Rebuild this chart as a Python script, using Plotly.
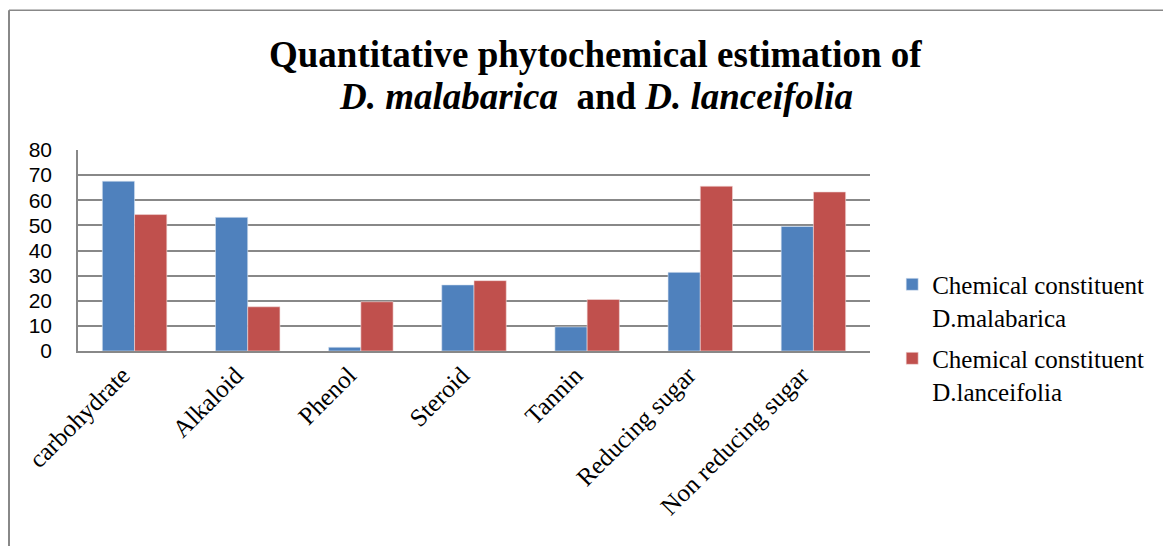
import plotly.graph_objects as go

categories = ["carbohydrate", "Alkaloid", "Phenol", "Steroid", "Tannin",
              "Reducing sugar", "Non reducing sugar"]
malabarica = [67.6, 53.2, 1.5, 26.3, 9.6, 31.3, 49.6]
lanceifolia = [54.3, 17.6, 19.6, 28.0, 20.5, 65.6, 63.3]
series_names = ["Chemical constituent<br>D.malabarica",
                "Chemical constituent<br>D.lanceifolia"]
y_ticks = [0, 10, 20, 30, 40, 50, 60, 70, 80]

fig = go.Figure()
fig.add_trace(go.Bar(x=categories, y=malabarica, name=series_names[0], legendgroup="a",
                     marker=dict(color="#4F81BD", line=dict(color="#DCE6F2", width=0.6))))
fig.add_trace(go.Bar(x=categories, y=lanceifolia, name=series_names[1], legendgroup="b",
                     marker=dict(color="#C0504D", line=dict(color="#F2DCDB", width=0.6))))

# page body has an 8px default margin; figure sized to compensate
fig.update_layout(
    width=1163, height=538,
    margin=dict(l=70, r=301, t=142, b=195),
    paper_bgcolor="white", plot_bgcolor="white",
    barmode="group", bargap=0.43, bargroupgap=0,
    showlegend=True,
    legend=dict(x=1.028, y=0.445, xanchor="left", yanchor="top",
                font=dict(family="Liberation Serif", size=25, color="black"),
                valign="top", tracegroupgap=6, itemwidth=30),
    font=dict(family="Liberation Serif", color="black"),
)
fig.update_xaxes(tickangle=-45, showline=True, linecolor="#888888", linewidth=1.5,
                 tickfont=dict(family="Liberation Serif", size=25, color="black"),
                 showgrid=False, ticks="", ticklabelshift=-12, ticklabelstandoff=-2)
fig.update_yaxes(range=[0, 80], tickvals=y_ticks, showline=True, linecolor="#888888",
                 linewidth=1.5, gridcolor="#888888", gridwidth=1.5, zeroline=False,
                 tickfont=dict(family="Liberation Sans", size=21, color="black"),
                 ticks="", ticklabelstandoff=20)

fig.add_annotation(xref="paper", yref="paper", x=0.654, y=1.0, yshift=96,
                   xanchor="center", yanchor="middle",
                   text="<b>Quantitative phytochemical estimation of</b>",
                   showarrow=False,
                   font=dict(family="Liberation Serif", size=37, color="black"))
fig.add_annotation(xref="paper", yref="paper", x=0.654, y=1.0, yshift=54,
                   xanchor="center", yanchor="middle",
                   text="<b><i>D. malabarica</i>  and <i>D. lanceifolia</i></b>",
                   showarrow=False,
                   font=dict(family="Liberation Serif", size=37, color="black"))

# outer chart frame (top and left edges visible)
fig.add_shape(type="line", xref="paper", yref="paper", x0=-69/792, x1=1.5,
              y0=1 + 139/200, y1=1 + 139/200, line=dict(color="#888888", width=1.5))
fig.add_shape(type="line", xref="paper", yref="paper", x0=-69/792, x1=-69/792,
              y0=1 + 139/200, y1=-1.5, line=dict(color="#888888", width=2))

fig.write_html("out.html")
